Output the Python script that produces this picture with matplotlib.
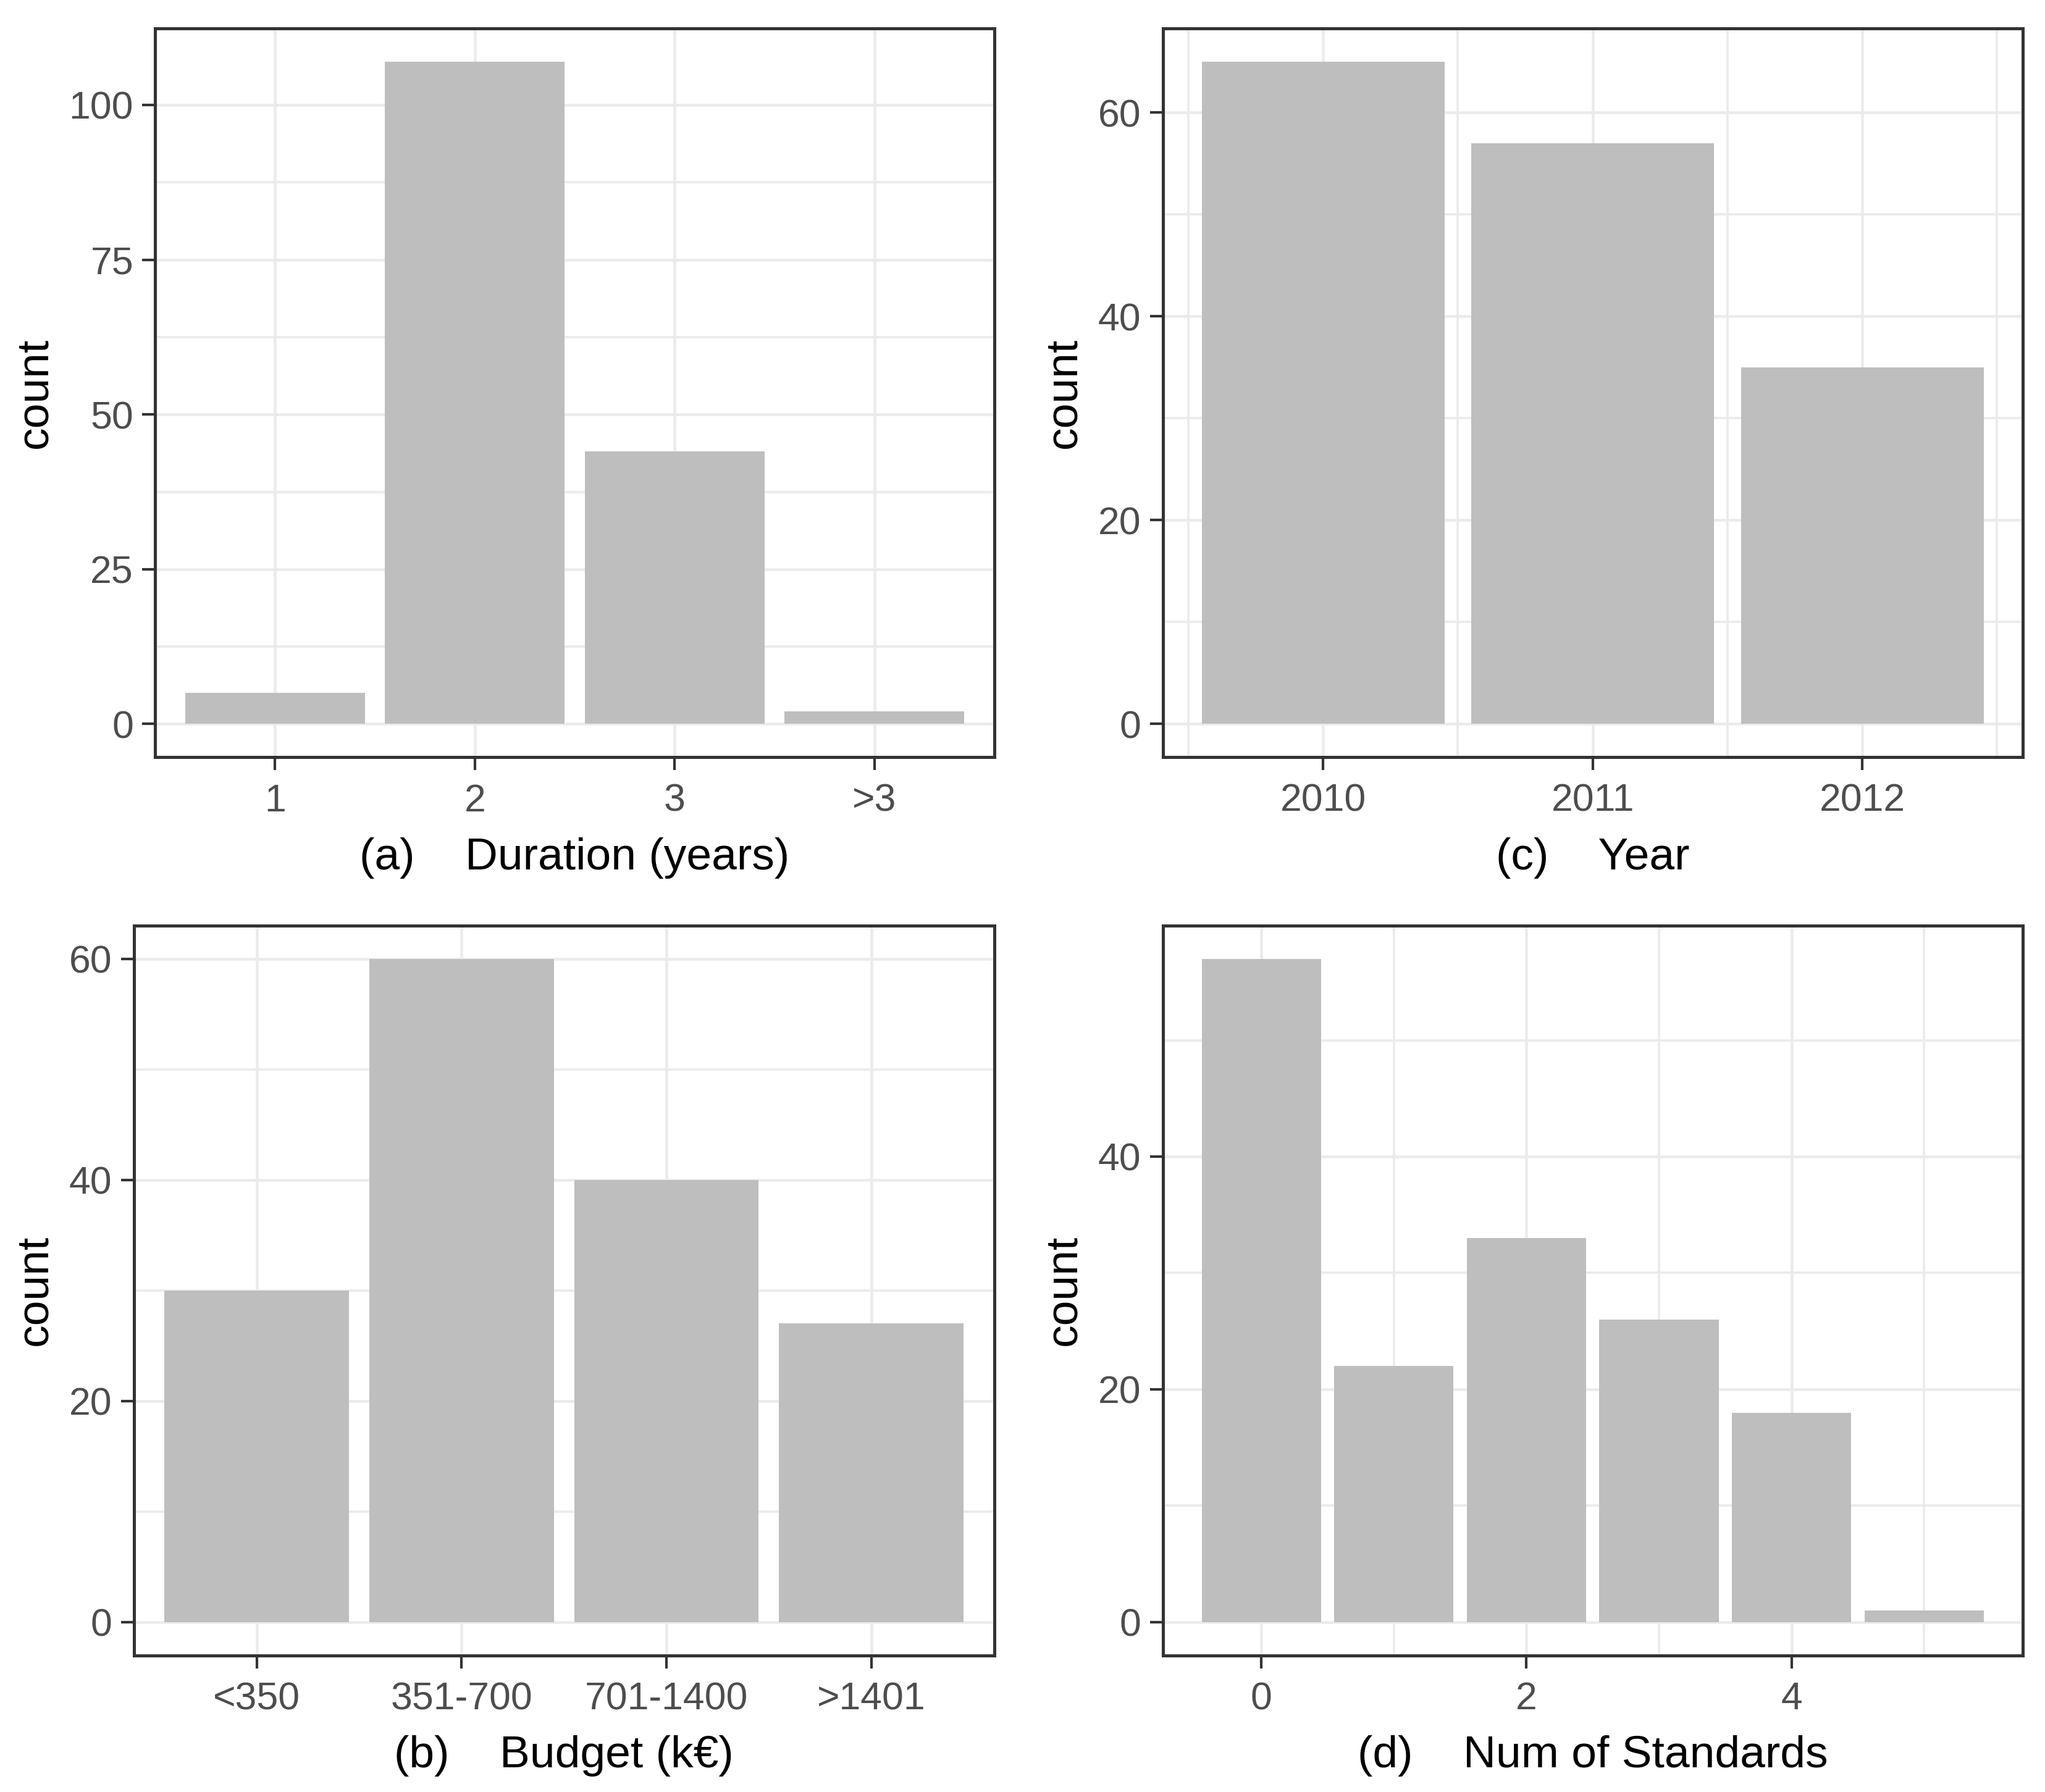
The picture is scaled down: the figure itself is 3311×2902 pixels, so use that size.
import matplotlib
matplotlib.use("Agg")
import matplotlib.pyplot as plt
import numpy as np

plt.rcParams['font.family'] = ['Liberation Sans', 'DejaVu Sans']

# ---- data ----
duration_cats = ["1", "2", "3", ">3"]
duration_counts = [5, 107, 44, 2]

budget_cats = ["<350", "351-700", "701-1400", ">1401"]
budget_counts = [30, 60, 40, 27]

years = [2010, 2011, 2012]
year_counts = [65, 57, 35]

num_standards = [0, 1, 2, 3, 4, 5]
standards_counts = [57, 22, 33, 26, 18, 1]

# ---- style ----
BAR = "#BEBEBE"
GRID = "#EBEBEB"
BORDER = "#333333"
TICKLAB = "#4D4D4D"
TICK_FS = 15
TITLE_FS = 17.6

fig = plt.figure(figsize=(3312 / 300, 2902 / 300), dpi=300)


def style_axes(ax, ymajor, yminor, xmajor, xminor):
    ax.set_yticks(ymajor)
    ax.set_yticks(yminor, minor=True)
    ax.set_xticks(xmajor)
    ax.set_xticks(xminor, minor=True)
    ax.grid(True, which='major', color=GRID, linewidth=1.1, zorder=0)
    ax.grid(True, which='minor', color=GRID, linewidth=0.9, zorder=0)
    ax.set_axisbelow(True)
    for s in ax.spines.values():
        s.set_color(BORDER)
        s.set_linewidth(1.2)
        s.set_zorder(5)
    ax.tick_params(which='major', length=5, width=1.0, color=BORDER,
                   labelsize=TICK_FS, labelcolor=TICKLAB)
    ax.tick_params(axis='y', which='major', pad=3.5)
    ax.tick_params(axis='x', which='major', pad=5)
    ax.tick_params(which='minor', length=0)


def ybreaks(vals, step):
    ymax = max(vals)
    lo, hi = -0.05 * ymax, 1.05 * ymax
    major = np.arange(0, hi + 1e-9, step)
    minor = np.arange(step / 2, hi, step)
    minor = [m for m in minor if lo < m < hi and m not in major]
    return (lo, hi), major, minor


def panel(rect, x, counts, xlim, xmajor, xminor, xticklabels, ystep, xlabel):
    ax = fig.add_axes(rect)
    ax.bar(x, counts, width=0.9, color=BAR, zorder=2, linewidth=0)
    (lo, hi), ymaj, ymin = ybreaks(counts, ystep)
    ax.set_ylim(lo, hi)
    ax.set_xlim(*xlim)
    style_axes(ax, ymaj, ymin, xmajor, xminor)
    ax.set_yticklabels([str(int(v)) for v in ymaj])
    if xticklabels is not None:
        ax.set_xticklabels(xticklabels)
    ax.set_ylabel("count", fontsize=TITLE_FS, color="black", labelpad=5)
    ax.set_xlabel(xlabel, fontsize=TITLE_FS, color="black", labelpad=7)
    return ax


# (a) Duration
xa = np.arange(1, len(duration_cats) + 1)
panel([0.0759, 0.5775, 0.4101, 0.4066], xa, duration_counts,
      (0.4, len(duration_cats) + 0.6), xa, [], duration_cats, 25,
      "(a)    Duration (years)")

# (c) Year
yr = np.array(years)
rng = (yr.min() - 0.45, yr.max() + 0.45)
pad = 0.05 * (rng[1] - rng[0])
ax_c = panel([0.5684, 0.5775, 0.4204, 0.4066], yr, year_counts,
             (rng[0] - pad, rng[1] + pad), yr, yr[:-1] + 0.5,
             [str(v) for v in yr], 20, "(c)    Year")
ax_c.set_xticks(list(np.concatenate(([yr.min() - 0.5], yr + 0.5))), minor=True)

# (b) Budget
xb = np.arange(1, len(budget_cats) + 1)
panel([0.0654, 0.0763, 0.4206, 0.4072], xb, budget_counts,
      (0.4, len(budget_cats) + 0.6), xb, [], budget_cats, 20,
      "(b)    Budget (k\u20ac)")

# (d) Num of Standards
ns = np.array(num_standards)
rng = (ns.min() - 0.45, ns.max() + 0.45)
pad = 0.05 * (rng[1] - rng[0])
panel([0.5684, 0.0763, 0.4204, 0.4072], ns, standards_counts,
      (rng[0] - pad, rng[1] + pad), ns[::2], ns[1::2],
      [str(v) for v in ns[::2]], 20, "(d)    Num of Standards")

fig.savefig("out.png", dpi=300, facecolor="white")
